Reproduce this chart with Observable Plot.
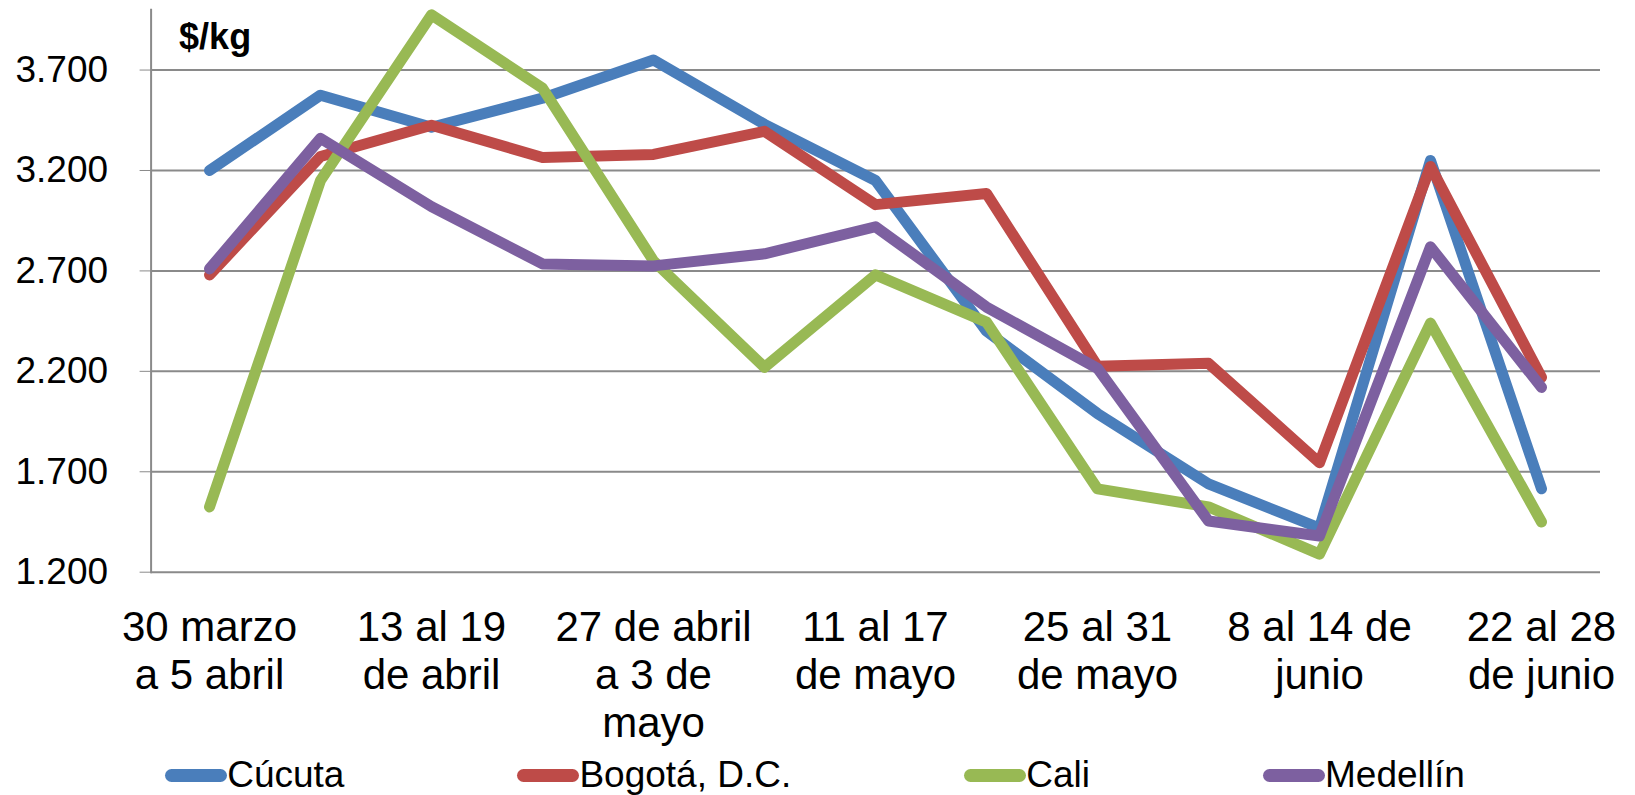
<!DOCTYPE html>
<html><head><meta charset="utf-8">
<script src="https://cdn.jsdelivr.net/npm/d3@7"></script>
<script src="https://cdn.jsdelivr.net/npm/@observablehq/plot@0.6"></script>
<style>
html,body{margin:0;padding:0;background:#fff;}
body{width:1635px;height:795px;overflow:hidden;font-family:"Liberation Sans",Arial,sans-serif;}
#chart svg text{fill:#000;}
#chart svg line{stroke-width:2px;}
#chart svg path.domain{stroke-width:2px;}
#legend{display:flex;justify-content:center;align-items:center;gap:173px;height:40px;padding-right:5px;font-size:37px;color:#000;}
#legend .item{display:flex;align-items:center;}
#legend .sw{width:62px;height:13px;border-radius:7px;}
</style>
</head><body>
<div id="chart"></div>
<div id="legend"></div>
<script>
const weeks = ["30 marzo a 5 abril","6 al 12 de abril","13 al 19 de abril","20 al 26 de abril","27 de abril a 3 de mayo","4 al 10 de mayo","11 al 17 de mayo","18 al 24 de mayo","25 al 31 de mayo","1 al 7 de junio","8 al 14 de junio","15 al 21 de junio","22 al 28 de junio"];
const tickLabels = ["30 marzo\na 5 abril","","13 al 19\nde abril","","27 de abril\na 3 de\nmayo","","11 al 17\nde mayo","","25 al 31\nde mayo","","8 al 14 de\njunio","","22 al 28\nde junio"];
const cities = ["Cúcuta","Bogotá, D.C.","Cali","Medellín"];
const colors = ["#4A7EBB","#BE4B48","#98B954","#7D60A0"];
const cucuta   = [3200,3575,3415,3560,3750,3430,3150,2400,1990,1640,1420,3250,1615];
const bogota   = [2680,3270,3425,3265,3280,3395,3030,3085,2225,2240,1745,3220,2170];
const cali     = [1525,3150,3975,3610,2750,2220,2680,2445,1615,1525,1290,2440,1450];
const medellin = [2710,3360,3020,2735,2725,2785,2920,2520,2215,1455,1380,2820,2120];
const yTicks = [1200,1700,2200,2700,3200,3700];
const yDomain = [1200,4000];
const unitLabel = "$/kg";

const seriesValues = [cucuta,bogota,cali,medellin];
const table = cities.flatMap((c,k) => weeks.map((w,i) => ({city:c, week:w, value:seriesValues[k][i]})));
const labelData = weeks.map((w,i) => ({week:w, label:tickLabels[i]})).filter(d => d.label);
const fmt = d3.formatLocale({decimal:",", thousands:".", grouping:[3], currency:["$",""]}).format(",d");

const chart = Plot.plot({
  width:1635, height:755,
  marginLeft:150.6, marginRight:35, marginTop:9.3, marginBottom:183.3,
  style:{fontSize:"37px", fontFamily:"'Liberation Sans',Arial,sans-serif", color:"#8a8a8a", background:"#fff"},
  x:{type:"point", domain:weeks, padding:0.5, axis:null},
  y:{domain:yDomain, ticks:yTicks, tickFormat:fmt, tickSize:11, tickPadding:32, line:true, label:null},
  color:{domain:cities, range:colors},
  marks:[
    Plot.ruleY(yTicks, {stroke:"#8a8a8a", strokeWidth:2}),
    Plot.line(table, {x:"week", y:"value", z:"city", stroke:"city", strokeWidth:11, strokeLinejoin:"round", strokeLinecap:"round"}),
    Plot.text(labelData, {x:"week", frameAnchor:"bottom", text:"label", lineAnchor:"top", dy:35, fontSize:42, lineHeight:1.14, fill:"#000"}),
    Plot.text([unitLabel], {frameAnchor:"top-left", text:d=>d, textAnchor:"start", lineAnchor:"top", dx:28, dy:14, fontSize:36, fontWeight:"bold", fill:"#000"})
  ]
});
document.getElementById("chart").appendChild(chart);

const legend = document.getElementById("legend");
cities.forEach((c,i) => {
  const it = document.createElement("div"); it.className = "item";
  const sw = document.createElement("div"); sw.className = "sw"; sw.style.background = colors[i];
  const tx = document.createElement("span"); tx.textContent = c;
  it.appendChild(sw); it.appendChild(tx); legend.appendChild(it);
});
</script>
</body></html>
